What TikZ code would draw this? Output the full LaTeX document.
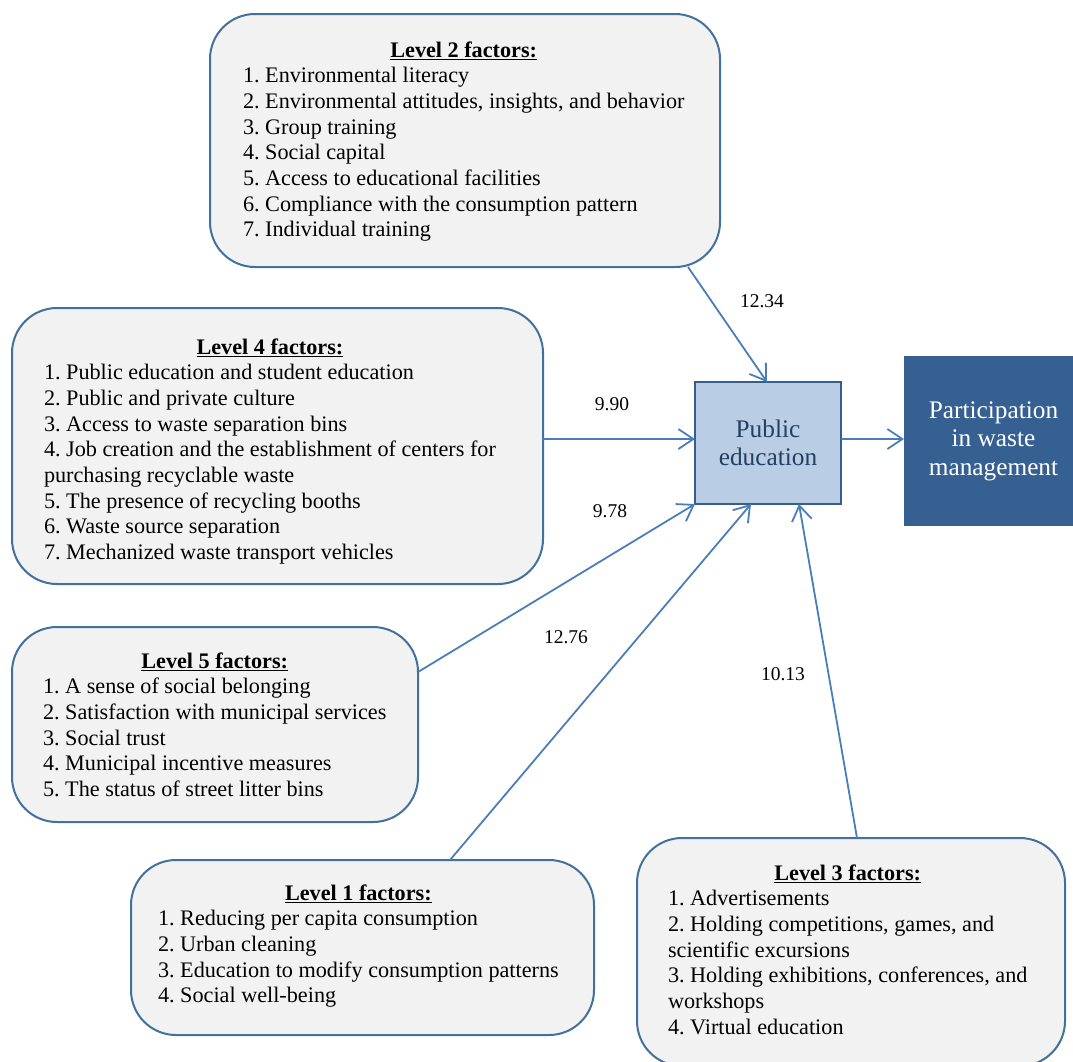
\documentclass[tikz,border=0pt]{standalone}
\usepackage{fontspec}
\setmainfont{Liberation Serif}
\usetikzlibrary{arrows.meta,calc}
\definecolor{boxfill}{HTML}{F2F2F2}
\definecolor{boxline}{HTML}{41719C}
\definecolor{arrowc}{HTML}{4A7EBB}
\definecolor{pefill}{HTML}{B9CDE5}
\definecolor{peline}{HTML}{385D8A}
\definecolor{petext}{HTML}{243F60}
\definecolor{partfill}{HTML}{376092}
\newcommand\fhead[1]{\multicolumn{1}{@{}c@{}}{\textbf{\underline{#1}}}}
\tikzset{
  factorbox/.style={draw=boxline, line width=2pt, fill=boxfill, rounded corners=45pt,
    inner sep=0pt, outer sep=0pt, rectangle},
  factortext/.style={inner sep=0pt, outer sep=0pt, anchor=base west,
    font=\fontsize{22.2}{25.7}\selectfont\frenchspacing},
  link/.style={draw=arrowc, line width=1.8pt,
    -{Straight Barb[length=15pt,width=20pt,line width=1.8pt]}},
  wlabel/.style={font=\fontsize{19.5}{22}\selectfont, inner sep=0pt},
}
\begin{document}
\frenchspacing
\begin{tikzpicture}[x=1pt,y=-1pt]
\useasboundingbox (0,0) rectangle (1073,1061);
\fill[white] (0,0) rectangle (1073,1061);

% factor boxes
\node[factorbox, minimum width=510pt, minimum height=253pt] (l2) at (465,140.5) {};
\node[factorbox, minimum width=531pt, minimum height=276pt] (l4) at (277.5,446) {};
\node[factorbox, minimum width=406pt, minimum height=195pt] (l5) at (215,724.5) {};
\node[factorbox, minimum width=463pt, minimum height=175pt] (l1) at (362.5,947.5) {};
\node[factorbox, minimum width=428pt, minimum height=228pt] (l3) at (851,952) {};

% central boxes
\node[rectangle, draw=peline, line width=1.8pt, fill=pefill, inner sep=0pt, outer sep=0pt,
  minimum width=146pt, minimum height=122pt, align=center, text=petext,
  font=\fontsize{25.3}{28.5}\selectfont] (pe) at (768,443) {Public\\education};
\node[rectangle, fill=partfill, inner sep=0pt, outer sep=0pt,
  minimum width=179pt, minimum height=170pt, align=center, text=white,
  font=\fontsize{25.3}{28.5}\selectfont] (part) at (993.5,441) {\raisebox{-3pt}{\begin{tabular}{@{}c@{}}Participation\\in waste\\management\end{tabular}}};

% texts
\node[factortext] (t2) at (243,57) {\begin{tabular}[t]{@{}l@{}}
\fhead{Level 2 factors:}\\
1. Environmental literacy\\
2. Environmental attitudes, insights, and behavior\\
3. Group training\\
4. Social capital\\
5. Access to educational facilities\\
6. Compliance with the consumption pattern\\
7. Individual training
\end{tabular}};

\node[factortext] (t4) at (44,354) {\begin{tabular}[t]{@{}l@{}}
\fhead{Level 4 factors:}\\
1. Public education and student education\\
2. Public and private culture\\
3. Access to waste separation bins\\
4. Job creation and the establishment of centers for\\
purchasing recyclable waste\\
5. The presence of recycling booths\\
6. Waste source separation\\
7. Mechanized waste transport vehicles
\end{tabular}};

\node[factortext] (t5) at (43,668) {\begin{tabular}[t]{@{}l@{}}
\fhead{Level 5 factors:}\\
1. A sense of social belonging\\
2. Satisfaction with municipal services\\
3. Social trust\\
4. Municipal incentive measures\\
5. The status of street litter bins
\end{tabular}};

\node[factortext] (t1) at (158,900) {\begin{tabular}[t]{@{}l@{}}
\fhead{Level 1 factors:}\\
1. Reducing per capita consumption\\
2. Urban cleaning\\
3. Education to modify consumption patterns\\
4. Social well-being
\end{tabular}};

\node[factortext] (t3) at (668,880) {\begin{tabular}[t]{@{}l@{}}
\fhead{Level 3 factors:}\\
1. Advertisements\\
2. Holding competitions, games, and\\
scientific excursions\\
3. Holding exhibitions, conferences, and\\
workshops\\
4. Virtual education
\end{tabular}};

% connectors
\coordinate (l4out) at (l4.east |- pe.west);
\coordinate (partin) at (part.west |- pe.east);
\draw[link] ([xshift=223pt]l2.south) -- ([xshift=-1pt]pe.north);
\draw[link] ([yshift=4pt]l4out) -- ([yshift=4pt]pe.west);
\draw[link] ([yshift=52.5pt]l5.east) -- (pe.south west);
\draw[link] ([xshift=87.5pt]l1.north) -- ([xshift=-17pt]pe.south);
\draw[link] ([xshift=6pt]l3.north) -- ([xshift=31pt]pe.south);
\draw[link] ([yshift=4pt]pe.east) -- ([yshift=4pt]partin);

% weights
\node[wlabel] (w2) at (762,301) {12.34};
\node[wlabel] (w4) at (612,404) {9.90};
\node[wlabel] (w5) at (610,511) {9.78};
\node[wlabel] (w1) at (566,637) {12.76};
\node[wlabel] (w3) at (783,674) {10.13};
\end{tikzpicture}
\end{document}
